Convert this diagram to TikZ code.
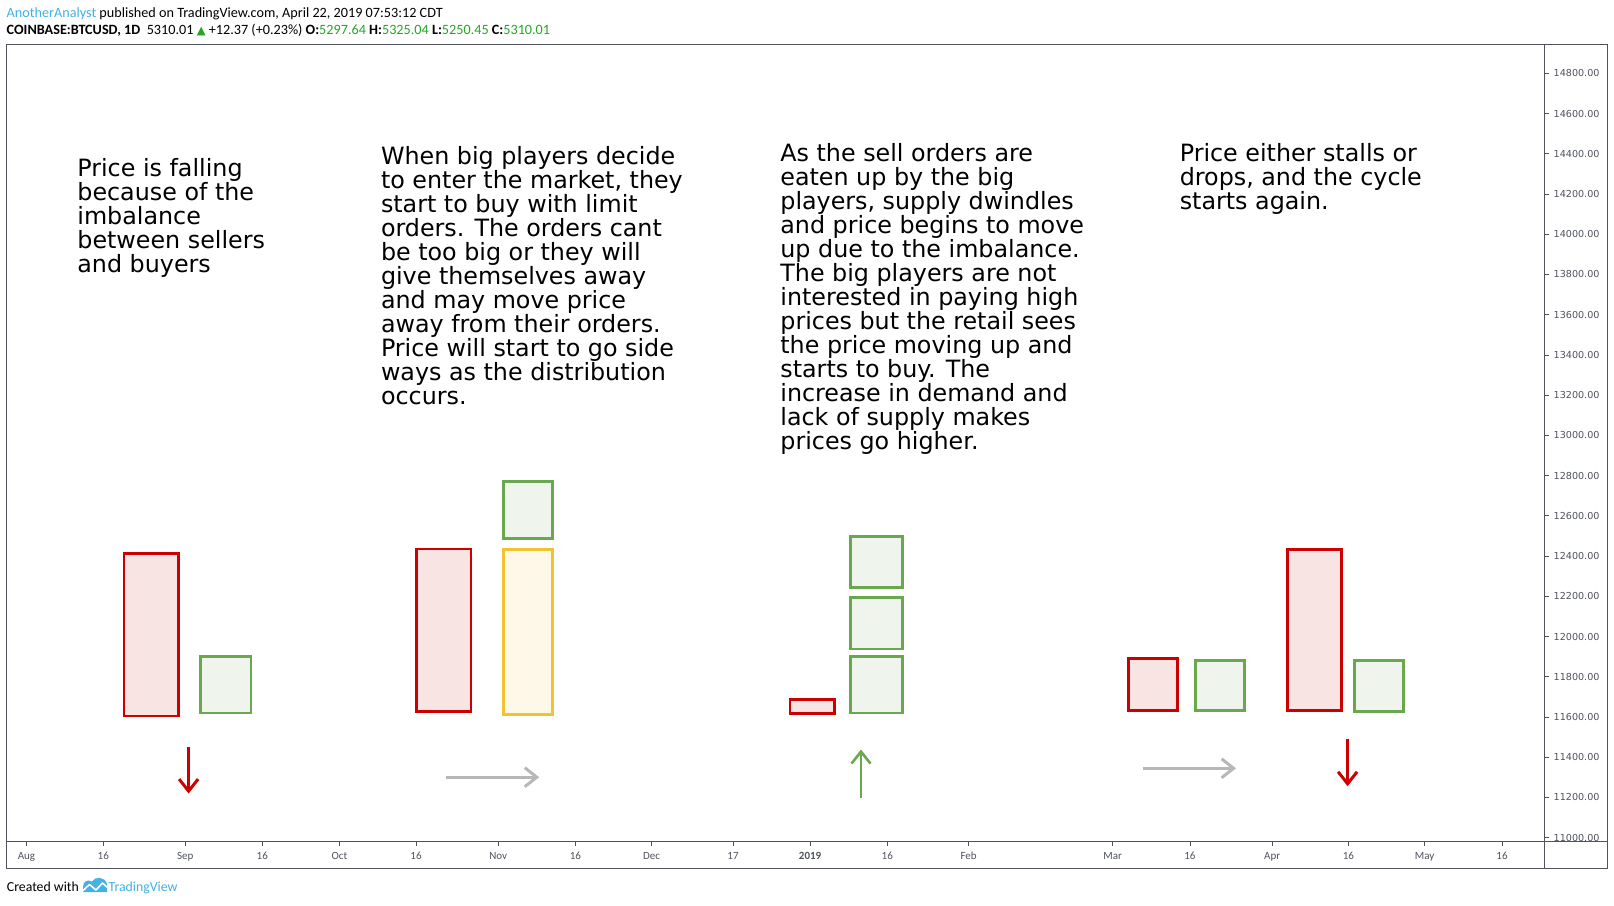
\documentclass[tikz,border=0pt]{standalone}
\usepackage{fontspec}
\usepackage{tikz}
\usetikzlibrary{arrows.meta}
\setmainfont{DejaVu Sans}
\newfontfamily\uifont{Carlito}
\newfontfamily\symfont{DejaVu Sans}

\definecolor{barred}{RGB}{204,0,0}
\definecolor{barredfill}{RGB}{248,228,227}
\definecolor{bargreen}{RGB}{106,168,79}
\definecolor{bargreenfill}{RGB}{239,244,236}
\definecolor{baryellow}{RGB}{241,194,50}
\definecolor{baryellowfill}{RGB}{254,248,232}
\definecolor{arrowgray}{RGB}{183,183,183}
\definecolor{framegray}{RGB}{80,83,94}
\definecolor{tvblue}{RGB}{66,177,230}
\definecolor{tvgreen}{RGB}{36,166,36}

\tikzset{
	redbar/.style={draw=barred, fill=barredfill, line width=2.7pt},
	greenbar/.style={draw=bargreen, fill=bargreenfill, line width=2.7pt},
	yellowbar/.style={draw=baryellow, fill=baryellowfill, line width=2.7pt},
	note/.style={anchor=base west, inner sep=0pt, align=left, font=\fontsize{23.8}{24}\selectfont},
	move/.style={line width=3pt, -{Straight Barb[length=12pt,width=19pt]}},
	axislabel/.style={inner sep=0pt, text=framegray},
}

\begin{document}
\begin{tikzpicture}[x=1pt, y=-1pt]
			%%%%% START %%%%%
			\useasboundingbox[fill=white] (0,0) rectangle (1614,905);
			
			% header
			\node[anchor=base west, inner sep=0pt, font=\uifont\fontsize{14.2}{15}\selectfont] (head1) at (6.5,17.5)
				{{\color{tvblue}AnotherAnalyst} published on TradingView.com, April 22, 2019 07:53:12 CDT};
			\node[anchor=base west, inner sep=0pt, font=\uifont\fontsize{14.2}{15}\selectfont] (head2) at (6.5,34)
				{\textbf{COINBASE:BTCUSD, 1D}\ \ 5310.01 {\symfont\fontsize{11.5}{12}\selectfont\color{tvgreen}▲} +12.37 (+0.23\%) \textbf{O:}{\color{tvgreen}5297.64} \textbf{H:}{\color{tvgreen}5325.04} \textbf{L:}{\color{tvgreen}5250.45} \textbf{C:}{\color{tvgreen}5310.01}};
			
			% chart frame
			\draw[framegray, line width=1pt] (6.5,44) rectangle (1607.5,868);
			\draw[framegray, line width=1pt] (1544,44) -- (1544,868);
			\draw[framegray, line width=1pt] (6.5,841) -- (1607.5,841);
			
			% price scale
			\begin{scope}
				\clip (1544,44) rectangle (1607.5,841);
				\foreach \k [evaluate=\k as \yy using 73.3+40.23*\k, evaluate=\k as \val using int(14800-200*\k)] in {0,...,19}{
					\draw[framegray, line width=0.8pt] (1544,\yy) -- (1549,\yy);
					\node[axislabel, anchor=west, font=\fontsize{9.6}{10}\selectfont] (price\k) at (1553.5,\yy) {\val.00};
				}
			\end{scope}
			
			% time scale
			\foreach \xx/\lab [count=\i] in {26.5/Aug, 103.3/16, 185.3/Sep, 262.3/16, 339.5/Oct, 416/16, 498.2/Nov, 575.4/16, 651.5/Dec, 733/17, 810.1/\textbf{2019}, 887.3/16, 968.6/Feb, 1112.7/Mar, 1189.9/16, 1272.2/Apr, 1348.4/16, 1424.6/May, 1502/16}{
				\draw[framegray, line width=0.8pt] (\xx,841) -- (\xx,845.5);
				\node[axislabel, anchor=base, font=\uifont\fontsize{11}{12}\selectfont] (date\i) at (\xx,859.5) {\lab};
			}
			
			% notes (anchored at the baseline of their last line)
			\node[note] (falling) at (77.2,272) {Price is falling\\because of the\\imbalance\\between sellers\\and buyers};
			\node[note] (accumulate) at (380.8,404.5) {When big players decide\\to enter the market, they\\start to buy with limit\\orders. The orders cant\\be too big or they will\\give themselves away\\and may move price\\away from their orders.\\Price will start to go side\\ways as the distribution\\occurs.};
			\node[note] (markup) at (780.2,449.5) {As the sell orders are\\eaten up by the big\\players, supply dwindles\\and price begins to move\\up due to the imbalance.\\The big players are not\\interested in paying high\\prices but the retail sees\\the price moving up and\\starts to buy. The\\increase in demand and\\lack of supply makes\\prices go higher.};
			\node[note] (restart) at (1179.6,209.5) {Price either stalls or\\drops, and the cycle\\starts again.};
			
			% stage 1
			\draw[redbar] (124,553.2) rectangle (178.7,716.1);
			\draw[greenbar] (200.4,656.2) rectangle (250.9,713);
			\coordinate (down1a) at (188.6,747);
			\coordinate (down1b) at (188.6,793.5);
			\draw[move, barred] (down1a) -- (down1b);
			
			% stage 2
			\draw[redbar] (416.2,549) rectangle (471,711.2);
			\draw[greenbar] (503.2,481.2) rectangle (552.5,538.5);
			\draw[yellowbar] (503.2,549.2) rectangle (552.5,714.3);
			\coordinate (side1a) at (445.7,777.2);
			\coordinate (side1b) at (539.2,777.2);
			\draw[move, arrowgray] (side1a) -- (side1b);
			
			% stage 3
			\draw[redbar] (790,699.4) rectangle (834.5,713.4);
			\draw[greenbar] (850.8,536.5) rectangle (902.2,587.6);
			\draw[greenbar] (850.8,597.6) rectangle (902.2,649.1);
			\draw[greenbar] (850.8,656.2) rectangle (902.2,713);
			\coordinate (up1a) at (861,797.5);
			\coordinate (up1b) at (861,749.5);
			\draw[move, bargreen, line width=2.6pt] (up1a) -- (up1b);
			
			% stage 4
			\draw[redbar] (1128.6,658.6) rectangle (1177.6,710.4);
			\draw[greenbar] (1195.6,660.4) rectangle (1244.6,710.4);
			\draw[redbar] (1287.4,549.4) rectangle (1341.3,710.4);
			\draw[greenbar] (1354.6,660.4) rectangle (1403.6,711.3);
			\coordinate (side2a) at (1142.8,768.3);
			\coordinate (side2b) at (1236,768.3);
			\draw[move, arrowgray] (side2a) -- (side2b);
			\coordinate (down2a) at (1347.6,738.5);
			\coordinate (down2b) at (1347.6,786.2);
			\draw[move, barred] (down2a) -- (down2b);
			
			% footer
			\node[anchor=base west, inner sep=0pt, font=\uifont\fontsize{13.8}{14}\selectfont] (created) at (6.7,891.5) {Created with};
			\fill[tvblue] (83,892) -- (83,887) .. controls (83,881) and (88,879) .. (92,881.5) .. controls (95,876) and (105,876.5) .. (107,884) -- (107,892) -- cycle;
			\draw[white, line width=1.6pt, line join=round] (82.5,891) -- (89.5,884.5) -- (96,890) -- (102.5,883) -- (107.5,887.5);
			\node[anchor=base west, inner sep=0pt, text=tvblue, font=\uifont\fontsize{13.8}{14}\selectfont] (brand) at (108.5,891.5) {TradingView};
			
			%%%%% END %%%%%
\end{tikzpicture}
\end{document}
